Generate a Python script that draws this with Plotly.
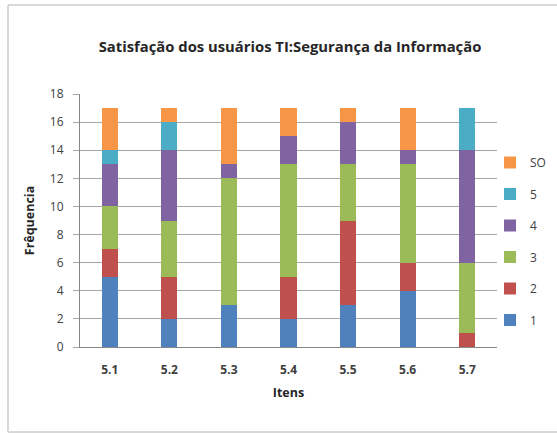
import plotly.graph_objects as go

categories = ["5.1", "5.2", "5.3", "5.4", "5.5", "5.6", "5.7"]
series_names = ["1", "2", "3", "4", "5", "SO"]
s1 = [5, 2, 3, 2, 3, 4, 0]
s2 = [2, 3, 0, 3, 6, 2, 1]
s3 = [3, 4, 9, 8, 4, 7, 5]
s4 = [3, 5, 1, 2, 3, 1, 8]
s5 = [1, 2, 0, 0, 0, 0, 3]
sSO = [3, 1, 4, 2, 1, 3, 0]
y_ticks = [0, 2, 4, 6, 8, 10, 12, 14, 16, 18]

colors = ["#4F81BD", "#C0504D", "#9BBB59", "#8064A2", "#4BACC6", "#F79646"]
values = [s1, s2, s3, s4, s5, sSO]

W, H = 557, 434
L, R, T, B = 80, 60, 94, 87
pw, ph = W - L - R, H - T - B

fig = go.Figure()
n = len(series_names)
for i, (name, vals, col) in enumerate(zip(series_names, values, colors)):
    fig.add_trace(go.Bar(x=categories, y=vals, name=name, marker_color=col,
                         marker_line_width=0, legendgroup=name, legendrank=n - i))

font_fam = "Open Sans, Liberation Sans, sans-serif"

def px_x(p):
    return (p - L) / pw

def px_y(p):
    return (H - B - p) / ph

frame_line = dict(color="#D9D9D9", width=2)
frame = [
    dict(type="line", xref="paper", yref="paper", x0=px_x(8), x1=px_x(8),
         y0=px_y(432), y1=px_y(5), line=frame_line, layer="below"),
    dict(type="line", xref="paper", yref="paper", x0=px_x(8), x1=px_x(557),
         y0=px_y(5), y1=px_y(5), line=frame_line, layer="below"),
    dict(type="line", xref="paper", yref="paper", x0=px_x(8), x1=px_x(557),
         y0=px_y(432), y1=px_y(432), line=frame_line, layer="below"),
]

fig.update_layout(
    width=W, height=H,
    margin=dict(l=L, r=R, t=T, b=B, autoexpand=False),
    paper_bgcolor="white", plot_bgcolor="white",
    barmode="stack", bargap=0.73,
    font=dict(family=font_fam, color="#404040", size=12),
    title=dict(text="<b>Satisfação dos usuários TI:Segurança da Informação</b>",
               x=(290) / W, xanchor="center", y=1 - 47 / H, yanchor="middle",
               font=dict(size=14.8, color="#262626", family=font_fam)),
    showlegend=True,
    legend=dict(traceorder="grouped", tracegroupgap=12.5,
                x=px_x(490), xanchor="left", y=px_y(148), yanchor="top",
                font=dict(size=12, color="#404040", family=font_fam),
                itemwidth=30, bgcolor="rgba(0,0,0,0)"),
    xaxis=dict(showgrid=False, showline=True, linecolor="#868686", linewidth=1,
               ticks="", tickfont=dict(size=12, color="#404040"), ticklabelstandoff=12,
               title=dict(text="<b>Itens</b>", font=dict(size=12.5, color="#262626"), standoff=10)),
    yaxis=dict(range=[0, 18], tickvals=y_ticks, showgrid=True, gridcolor="#A6A6A6",
               gridwidth=1, showline=True, linecolor="#868686", linewidth=1,
               ticks="outside", ticklen=6, tickcolor="#A6A6A6", ticklabelstandoff=7,
               tickfont=dict(size=12, color="#404040"), zeroline=False,
               title=dict(text="<b>Frêquencia</b>", font=dict(size=12.5, color="#262626"), standoff=12)),
    shapes=frame,
)
fig.update_xaxes(tickprefix="<b>", ticksuffix="</b>")
fig.update_yaxes(tickprefix="<b>", ticksuffix="</b>")

fig.write_html("out.html", config={"displayModeBar": False},
               post_script="document.body.style.margin='0';document.body.style.overflow='hidden';")
